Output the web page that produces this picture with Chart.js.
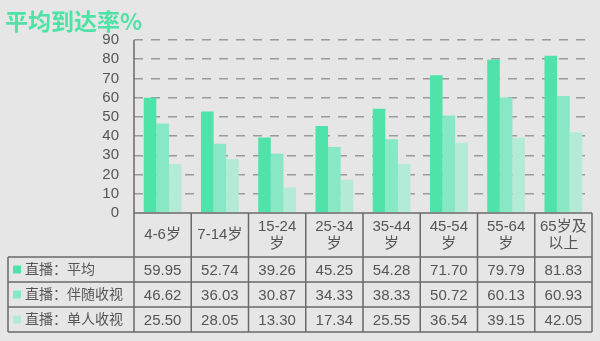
<!DOCTYPE html>
<html>
<head>
<meta charset="utf-8">
<script src="https://cdn.jsdelivr.net/npm/chart.js@4"></script>
<style>
  html, body { margin: 0; padding: 0; background: #e6e6e6; }
  #wrap { position: relative; width: 600px; height: 341px; }
  #title {
    position: absolute; left: 5px; top: 3px;
    font: bold 23px 'Noto Sans CJK SC', sans-serif;
    color: #4fe2a6; letter-spacing: 0px;
  }
</style>
</head>
<body>
<div id="wrap">
  <canvas id="chart" width="600" height="341"></canvas>
  <div id="title">平均到达率%</div>
</div>
<script>
const categories = ['4-6岁', '7-14岁', '15-24\n岁', '25-34\n岁', '35-44\n岁', '45-54\n岁', '55-64\n岁', '65岁及\n以上'];
const seriesNames = ['直播：平均', '直播：伴随收视', '直播：单人收视'];
const avgValues = [59.95, 52.74, 39.26, 45.25, 54.28, 71.70, 79.79, 81.83];
const companyValues = [46.62, 36.03, 30.87, 34.33, 38.33, 50.72, 60.13, 60.93];
const aloneValues = [25.50, 28.05, 13.30, 17.34, 25.55, 36.54, 39.15, 42.05];
const yTicks = [0, 10, 20, 30, 40, 50, 60, 70, 80, 90];
const colors = ['#50e3a9', '#88e7c4', '#b4ebd7'];

const numFont = "15px 'Liberation Sans', 'Noto Sans CJK SC', sans-serif";
const cjkFont = "14px 'Liberation Sans', 'Noto Sans CJK SC', sans-serif";
const textColor = '#555555';
const lineColor = '#6a6a6a';

// draws the data table under the plot
const tablePlugin = {
  id: 'dataTable',
  afterDraw(chart) {
    const ctx = chart.ctx;
    const area = chart.chartArea;
    const xs = chart.scales.x;
    const colW = area.width / categories.length;
    const headTop = area.bottom;
    const headBottom = headTop + 44;
    const rowH = 25;
    const tableBottom = headBottom + rowH * 3;
    const tableLeft = 8;

    ctx.save();
    ctx.strokeStyle = lineColor;
    ctx.lineWidth = 1.5;
    ctx.beginPath();
    // axis line running down through the table
    ctx.moveTo(area.left, area.top);
    ctx.lineTo(area.left, tableBottom);
    // column separators
    for (let i = 1; i <= categories.length; i++) {
      const x = area.left + i * colW;
      ctx.moveTo(x, headTop);
      ctx.lineTo(x, tableBottom);
    }
    ctx.moveTo(tableLeft, headBottom);
    ctx.lineTo(tableLeft, tableBottom);
    ctx.moveTo(area.left, headTop);
    ctx.lineTo(area.right, headTop);
    for (let r = 0; r <= 3; r++) {
      const y = headBottom + r * rowH;
      ctx.moveTo(tableLeft, y);
      ctx.lineTo(area.right, y);
    }
    ctx.stroke();

    ctx.fillStyle = textColor;
    ctx.textAlign = 'center';
    ctx.textBaseline = 'middle';
    ctx.font = numFont;
    categories.forEach((c, i) => {
      const cx = xs.getPixelForValue(i);
      const lines = c.split('\n');
      const mid = (headTop + headBottom) / 2;
      lines.forEach((ln, k) => {
        const y = mid + (k - (lines.length - 1) / 2) * 17;
        ctx.fillText(ln, cx, y);
      });
    });

    const rows = [avgValues, companyValues, aloneValues];
    rows.forEach((vals, r) => {
      const cy = headBottom + r * rowH + rowH / 2 + 1;
      ctx.fillStyle = colors[r];
      ctx.fillRect(13, cy - 5, 8, 8);
      ctx.fillStyle = textColor;
      ctx.textAlign = 'left';
      ctx.font = cjkFont;
      ctx.fillText(seriesNames[r], 25, cy);
      ctx.textAlign = 'center';
      ctx.font = numFont;
      vals.forEach((v, i) => {
        ctx.fillText(v.toFixed(2), xs.getPixelForValue(i), cy);
      });
    });
    ctx.restore();
  }
};

new Chart(document.getElementById('chart'), {
  type: 'bar',
  data: {
    labels: categories,
    datasets: [
      { label: seriesNames[0], data: avgValues, backgroundColor: colors[0] },
      { label: seriesNames[1], data: companyValues, backgroundColor: colors[1] },
      { label: seriesNames[2], data: aloneValues, backgroundColor: colors[2] }
    ]
  },
  options: {
    responsive: false,
    animation: false,
    layout: { padding: { top: 40, right: 8, bottom: 128, left: 0 } },
    plugins: { legend: { display: false }, tooltip: { enabled: false } },
    datasets: { bar: { categoryPercentage: 0.66, barPercentage: 1 } },
    scales: {
      x: { display: false },
      y: {
        min: yTicks[0],
        max: yTicks[yTicks.length - 1],
        afterFit: (s) => { s.width = 134; },
        afterBuildTicks: (s) => { s.ticks = yTicks.map(v => ({ value: v })); },
        ticks: {
          color: textColor,
          font: { family: "'Liberation Sans', sans-serif", size: 15 },
          padding: 15,
          autoSkip: false
        },
        grid: {
          color: (c) => c.tick.value === 0 ? 'rgba(0,0,0,0)' : '#9a9a9a',
          lineWidth: 1.5,
          drawTicks: false
        },
        border: { display: false, dash: [9, 8] }
      }
    }
  },
  plugins: [tablePlugin]
});
</script>
</body>
</html>
